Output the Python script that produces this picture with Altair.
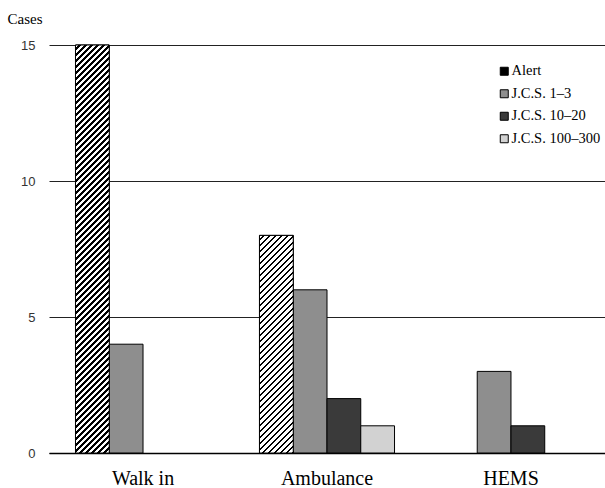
import altair as alt
import pandas as pd

# ---- data ----
groups = ["Walk in", "Ambulance", "HEMS"]
levels = ["Alert", "J.C.S. 1–3", "J.C.S. 10–20", "J.C.S. 100–300"]
alert = [15, 8, 0]
jcs_1_3 = [4, 6, 3]
jcs_10_20 = [0, 2, 1]
jcs_100_300 = [0, 1, 0]
y_ticks = [0, 5, 10, 15]

series = [alert, jcs_1_3, jcs_10_20, jcs_100_300]
rows = []
for lv, vals in zip(levels, series):
    for g, v in zip(groups, vals):
        rows.append({"group": g, "level": lv, "cases": v})
df = pd.DataFrame(rows)
df = df[df["cases"] > 0]

# ---- layout ----
W, H = 556, 408
YMAX = 15
P_IN, P_OUT = 0.266, 0.144
step = W / (len(groups) - P_IN + 2 * P_OUT)
bar_w = step * (1 - P_IN) / len(levels)


def stripes(value, period=6.0, dark=0.45):
    """Diagonal hatch '///' as a hard-stop linear gradient (bbox units)."""
    h = value * H / YMAX
    w = bar_w
    L = w + h
    k = L / (w * w + h * h)
    stops = []
    n = int(L / period) + 2
    for i in range(n):
        a = i * period / L
        b = (i + 1 - dark) * period / L
        c = (i + 1) * period / L
        for off, col in [(a, "white"), (b, "white"), (b, "black"), (c, "black")]:
            if off <= 1.0:
                stops.append({"offset": round(off, 5), "color": col})
    return {"gradient": "linear", "x1": 0, "y1": 0,
            "x2": round(k * w, 5), "y2": round(k * h, 5), "stops": stops}


x_enc = alt.X("group:N", sort=groups,
              scale=alt.Scale(domain=groups, paddingInner=P_IN, paddingOuter=P_OUT),
              axis=alt.Axis(title=None, domain=True, domainColor="black", domainWidth=1.5,
                            ticks=False, labelAngle=0, labelFont="Liberation Serif",
                            labelFontSize=20, labelColor="black",
                            labelBaseline="alphabetic", labelPadding=31))
xo_enc = alt.XOffset("level:N", sort=levels,
                     scale=alt.Scale(domain=levels, paddingInner=0, paddingOuter=0))
y_enc = alt.Y("cases:Q", scale=alt.Scale(domain=[0, YMAX], nice=False),
              axis=alt.Axis(values=y_ticks, grid=True, gridColor="#222", gridWidth=1,
                            domain=False, ticks=False, labelFont="Liberation Sans",
                            labelFontSize=13, labelColor="#333", labelPadding=14,
                            title="Cases", titleAngle=0, titleFont="Liberation Serif",
                            titleFontSize=15, titleFontWeight="normal", titleColor="black",
                            titleAlign="left", titleBaseline="alphabetic",
                            titleX=-42, titleY=-22))

base = alt.Chart(df).mark_bar(stroke="black", strokeWidth=1).encode(
    x=x_enc, xOffset=xo_enc, y=y_enc,
    fill=alt.Fill("level:N", sort=levels,
                  scale=alt.Scale(domain=levels,
                                  range=["#000000", "#8e8e8e", "#3a3a3a", "#d2d2d2"]),
                  legend=alt.Legend(orient="none", legendX=448, legendY=19, title=None,
                                    symbolType="square", symbolSize=64,
                                    symbolStrokeColor="black", symbolStrokeWidth=1,
                                    labelFont="Liberation Serif", labelFontSize=14.5,
                                    labelColor="black", rowPadding=7.5, labelOffset=0)),
)

layers = [base]
for g, v in zip(groups, alert):
    if v > 0:
        layers.append(
            alt.Chart(df).transform_filter(
                (alt.datum.level == "Alert") & (alt.datum.group == g)
            ).mark_bar(stroke="black", strokeWidth=1, fill=stripes(v)).encode(
                x=x_enc, xOffset=xo_enc, y=y_enc)
        )

chart = alt.layer(*layers).properties(
    width=W, height=H,
    autosize=alt.AutoSizeParams(type="none"),
    padding={"left": 49, "top": 45, "right": 0, "bottom": 35},
    background="white",
).configure_view(stroke=None)

chart.save("out.html", embed_options={"renderer": "svg", "actions": False})
